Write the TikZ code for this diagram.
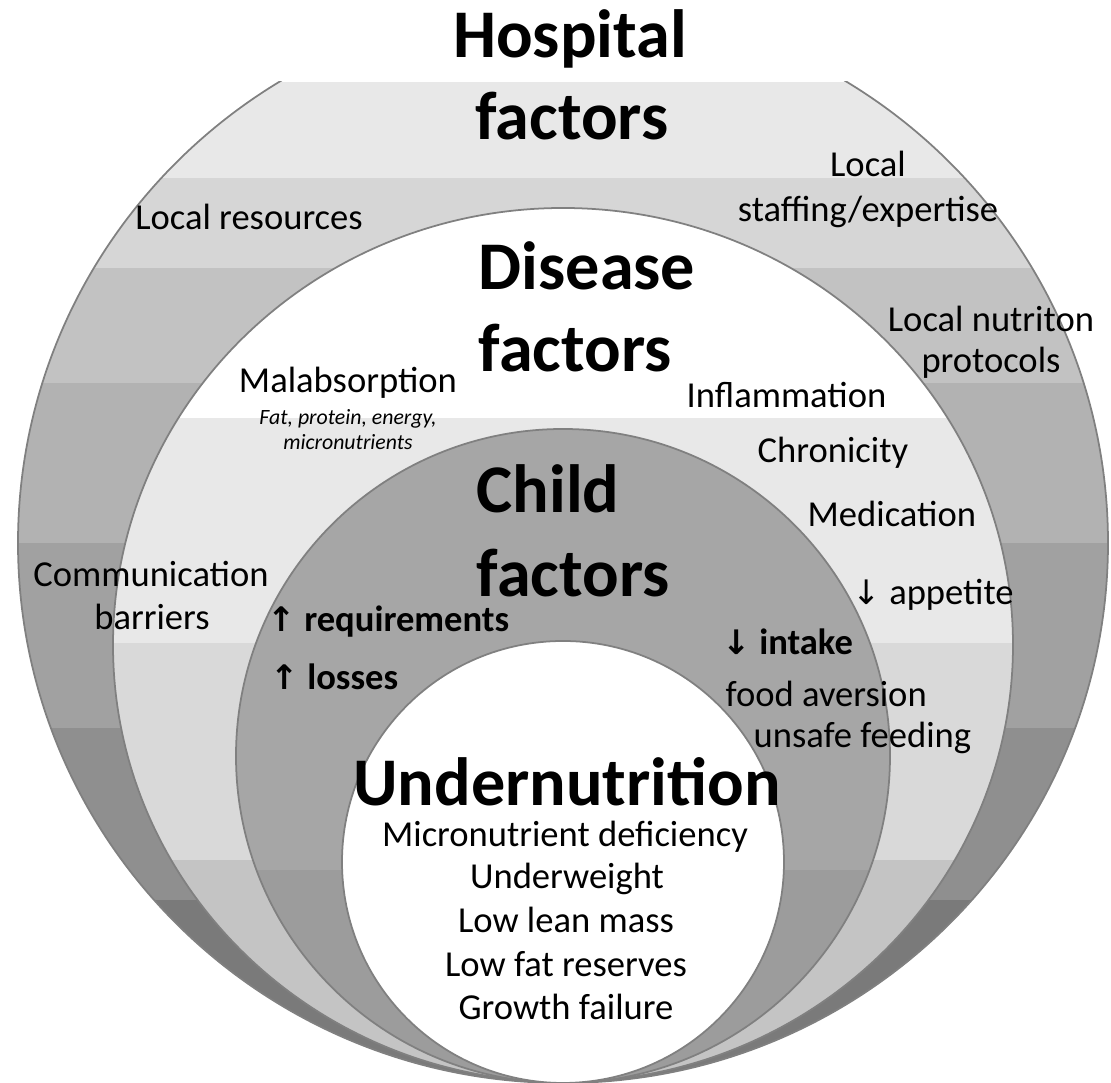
\documentclass[tikz,border=0pt]{standalone}
\usepackage{fontspec}
\setmainfont{Carlito}
\newfontfamily\arrowfont{DejaVu Sans}
\usepackage{tikz}
\definecolor{hospA}{gray}{0.91}
\definecolor{hospB}{gray}{0.84}
\definecolor{hospC}{gray}{0.76}
\definecolor{hospD}{gray}{0.70}
\definecolor{hospE}{gray}{0.63}
\definecolor{hospF}{gray}{0.56}
\definecolor{hospG}{gray}{0.48}
\definecolor{disB}{gray}{0.91}
\definecolor{disC}{gray}{0.85}
\definecolor{disD}{gray}{0.77}
\definecolor{childA}{gray}{0.65}
\definecolor{childB}{gray}{0.61}
\definecolor{rimGray}{gray}{0.5}
\tikzset{
  rim/.style={draw=rimGray, line width=0.5pt},
  title/.style={font=\fontsize{19.4}{23}\selectfont\bfseries, anchor=base, inner sep=0pt},
  lbl/.style={font=\fontsize{10.4}{12.5}\selectfont, anchor=base, inner sep=0pt},
  lblbold/.style={font=\fontsize{10.4}{12.5}\selectfont\bfseries, anchor=base west, inner sep=0pt},
  note/.style={font=\fontsize{6.2}{7.5}\selectfont\itshape, anchor=base, inner sep=0pt},
}
\newcommand{\upar}{{\arrowfont\fontsize{9.6}{10}\selectfont\bfseries ↑}}
\newcommand{\downar}{{\arrowfont\fontsize{9.6}{10}\selectfont\bfseries ↓}}
\newcommand{\downthin}{{\arrowfont\fontsize{9.6}{10}\selectfont ↓}}

\begin{document}
\begin{tikzpicture}[x=0.01cm, y=-0.01cm]
    \useasboundingbox (0,0) rectangle (1111,1083);

    % Hospital ring
    \begin{scope}
        \clip (0,82) rectangle (1111,1083);
        \begin{scope}
            \clip (563,543) ellipse [x radius=545, y radius=540];
            \foreach \top/\bot/\col in {82/178/hospA, 178/268/hospB, 268/383/hospC, 383/543/hospD, 543/728/hospE, 728/900/hospF, 900/1083/hospG}
                \fill[\col] (0,\top) rectangle (1111,\bot);
        \end{scope}
        \draw[rim] (563,543) ellipse [x radius=545, y radius=540];
    \end{scope}

    % Disease ring
    \begin{scope}
        \clip (563,645) ellipse [x radius=450, y radius=437];
        \foreach \top/\bot/\col in {208/418/white, 418/643/disB, 643/860/disC, 860/1083/disD}
            \fill[\col] (0,\top) rectangle (1111,\bot);
    \end{scope}
    \draw[rim] (563,645) ellipse [x radius=450, y radius=437];

    % Child ring
    \begin{scope}
        \clip (563,756) circle (327);
        \foreach \top/\bot/\col in {425/870/childA, 870/1083/childB}
            \fill[\col] (0,\top) rectangle (1111,\bot);
    \end{scope}
    \draw[rim] (563,756) circle (327);

    % Undernutrition core
    \fill[white] (563,862) circle (221);
    \draw[rim] (563,862) circle (221);

    % Titles
    \node[title] (hospT) at (570,58) {Hospital};
    \node[title] (hospF) at (572,140) {factors};
    \node[title, anchor=base west] (disT) at (478,290) {Disease};
    \node[title, anchor=base west] (disF) at (478,372) {factors};
    \node[title, anchor=base west] (childT) at (476,513) {Child};
    \node[title, anchor=base west] (childF) at (476,597) {factors};
    \node[title] (underT) at (567,806) {Undernutrition};

    % Hospital factors
    \node[lbl] (resources) at (249,230) {Local resources};
    \node[lbl] (staffA) at (868,177) {Local};
    \node[lbl] (staffB) at (868,222) {staffing/expertise};
    \node[lbl] (protoA) at (991,332) {Local nutriton};
    \node[lbl] (protoB) at (991,373) {protocols};
    \node[lbl] (commA) at (151,587) {Communication};
    \node[lbl] (commB) at (152,630) {barriers};

    % Disease factors
    \node[lbl] (malab) at (348,393) {Malabsorption};
    \node[note] (malabA) at (348,425) {Fat, protein, energy,};
    \node[note] (malabB) at (348,450) {micronutrients};
    \node[lbl, anchor=base west] (inflam) at (686,408) {Inflammation};
    \node[lbl, anchor=base west] (chron) at (757,463) {Chronicity};
    \node[lbl, anchor=base west] (medic) at (807,527) {Medication};
    \node[lbl, anchor=base west] (appet) at (852,605) {\downthin\ appetite};

    % Child factors
    \node[lblbold] (requ) at (267,632) {\upar\ requirements};
    \node[lblbold] (loss) at (270,690) {\upar\ losses};
    \node[lblbold] (intake) at (722,655) {\downar\ intake};
    \node[lbl, anchor=base west] (aversion) at (725,707) {food aversion};
    \node[lbl, anchor=base west] (unsafe) at (753,748) {unsafe feeding};

    % Undernutrition
    \node[lbl] (micro) at (565,847) {Micronutrient deficiency};
    \node[lbl] (weight) at (567,889) {Underweight};
    \node[lbl] (lean) at (566,933) {Low lean mass};
    \node[lbl] (fat) at (566,977) {Low fat reserves};
    \node[lbl] (growth) at (566,1020) {Growth failure};
\end{tikzpicture}
\end{document}
